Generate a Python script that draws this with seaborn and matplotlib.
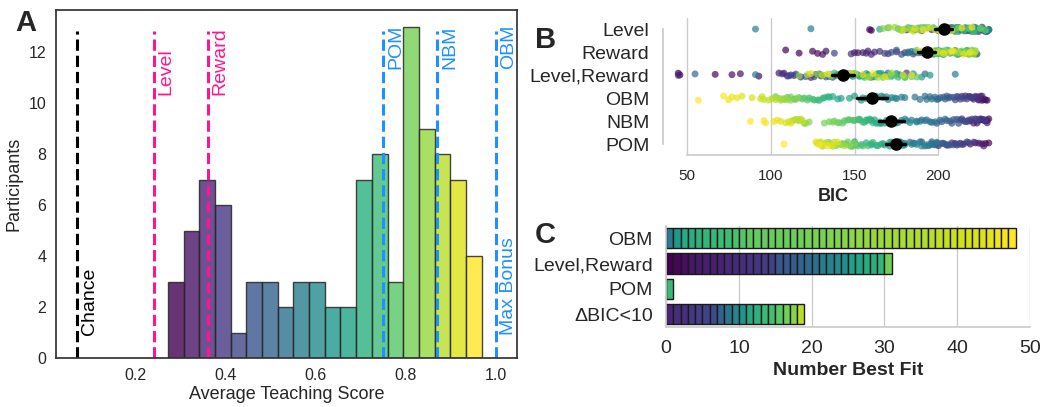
import numpy as np
import pandas as pd
import matplotlib
matplotlib.use('Agg')
import matplotlib.pyplot as plt
import seaborn as sns

# average teaching score per participant (sorted low -> high)
scores = [0.272, 0.285, 0.298,
          0.312, 0.319, 0.326, 0.331, 0.338,
          0.345, 0.350, 0.355, 0.360, 0.364, 0.368, 0.373,
          0.380, 0.386, 0.392, 0.398, 0.403, 0.408,
          0.428,
          0.452, 0.463, 0.474,
          0.487, 0.498, 0.509,
          0.526, 0.541,
          0.556, 0.568, 0.579,
          0.592, 0.603, 0.614,
          0.632, 0.647,
          0.664, 0.681,
          0.695, 0.700, 0.705, 0.709, 0.714, 0.718, 0.722,
          0.729, 0.733, 0.737, 0.741, 0.745, 0.749, 0.753, 0.757,
          0.768, 0.779, 0.790,
          0.798, 0.800, 0.803, 0.805, 0.808, 0.810, 0.813, 0.815, 0.818, 0.820, 0.823, 0.825, 0.828,
          0.833, 0.837, 0.841, 0.845, 0.849, 0.853, 0.856, 0.860, 0.863,
          0.868, 0.872, 0.876, 0.880, 0.884, 0.888, 0.892, 0.897,
          0.903, 0.908, 0.913, 0.918, 0.923, 0.928, 0.932,
          0.940, 0.950, 0.959, 0.968]

# best fitting model per participant (same order as scores)
best_codes = ['LR', 'LR', 'LR', 'LR', 'LR', 'LR', 'LR', 'LR', 'D', 'LR',
              'LR', 'D', 'LR', 'D', 'LR', 'LR', 'D', 'LR', 'D', 'LR',
              'D', 'D', 'LR', 'LR', 'LR', 'D', 'LR', 'LR', 'LR', 'D',
              'O', 'LR', 'LR', 'D', 'LR', 'LR', 'D', 'O', 'LR', 'LR',
              'D', 'O', 'LR', 'O', 'LR', 'D', 'O', 'LR', 'O', 'O',
              'P', 'D', 'O', 'O', 'D', 'O', 'O', 'D', 'O', 'O',
              'O', 'O', 'O', 'O', 'O', 'O', 'LR', 'D', 'O', 'O',
              'O', 'O', 'O', 'D', 'O', 'O', 'O', 'O', 'O', 'O',
              'O', 'O', 'O', 'O', 'O', 'O', 'O', 'D', 'O', 'O',
              'O', 'O', 'O', 'O', 'O', 'O', 'O', 'O', 'O']
best_names = {'LR': 'Level,Reward', 'O': 'OBM', 'P': 'POM', 'D': 'ΔBIC<10'}
fit_order = ['OBM', 'Level,Reward', 'POM', 'ΔBIC<10']

# BIC of every model per participant (same order as scores)
models = ['Level', 'Reward', 'Level,Reward', 'OBM', 'NBM', 'POM']
bic_level = [159, 160, 181, 186, 214, 220, 225, 210, 228, 205, 218, 230, 196, 222, 212, 208, 226, 216, 190, 229, 224,
             200, 215, 227, 206, 219, 211, 229, 203, 223, 217, 209, 226, 213, 221, 207, 230, 218, 212, 224,
             124, 91, 215, 222, 208, 228, 218, 211, 225, 213, 230, 206, 220, 216, 226, 210, 223, 219,
             165, 184, 170, 192, 178, 197, 188, 176, 215, 182, 205, 194, 221, 187, 210, 199, 228, 190, 218, 203, 225, 212,
             167, 180, 174, 189, 177, 193, 183, 171, 198, 185, 202, 179, 195, 208, 186, 214, 191, 220, 201]
bic_reward = [109, 117, 125, 128, 131, 133, 150, 152, 155, 158, 160, 162, 148, 157, 165, 170, 175, 223, 180, 185, 138,
              168, 172, 178, 182, 186, 190, 175, 194, 198, 202, 188, 206, 210, 184, 214, 196, 218, 200, 222,
              182, 197, 204, 190, 212, 200, 207, 217, 194, 220, 203, 210, 222, 198, 214, 206, 218, 202,
              192, 208, 200, 216, 204, 221, 197, 211, 219, 205, 213, 199, 222, 209, 217, 203, 220, 195, 214, 207, 218, 201,
              187, 210, 198, 216, 204, 221, 193, 212, 206, 218, 200, 222, 209, 196, 215, 203, 219, 190, 208]
bic_level_reward = [45, 46, 67, 93, 77, 82, 105, 108, 110, 112, 45, 118, 124, 107, 130, 115, 181, 135, 127, 140, 114,
                    126, 111, 133, 145, 121, 150, 137, 155, 129, 160, 143, 165, 55, 148, 170, 192, 158, 91, 152,
                    210, 139, 162, 146, 168, 175, 153, 177, 141, 185, 157, 195, 163, 180, 149, 172, 190, 166,
                    132, 158, 144, 171, 149, 164, 138, 176, 153, 184, 135, 162, 147, 174, 156, 187, 142, 167, 151, 180, 159, 170,
                    117, 144, 128, 158, 136, 172, 122, 150, 164, 131, 179, 141, 155, 124, 168, 147, 184, 134, 161]
bic_obm = [228, 226, 229, 224, 227, 222, 225, 220, 223, 218, 226, 221, 216, 224, 219, 214, 222, 217, 212, 220, 215,
           210, 213, 207, 211, 205, 209, 203, 206, 200, 204, 198, 201, 195, 199, 192, 196, 189, 193, 186,
           180, 175, 178, 172, 169, 174, 166, 170, 163, 160, 167, 157, 154, 161, 150, 155, 147, 142,
           140, 135, 137, 132, 129, 134, 126, 131, 123, 128, 120, 125, 117, 122, 114, 119, 110, 115, 106, 112, 103, 108,
           112, 116, 108, 110, 104, 106, 101, 103, 99, 96, 95, 94, 89, 83, 80, 77, 75, 72, 57]
bic_nbm = [229, 227, 230, 225, 228, 223, 226, 221, 229, 219, 224, 227, 217, 222, 225, 215, 220, 228, 213, 218, 223,
           214, 211, 216, 208, 212, 205, 209, 202, 207, 199, 204, 196, 201, 193, 198, 190, 195, 187, 192,
           189, 184, 187, 181, 178, 183, 175, 180, 172, 169, 176, 166, 163, 170, 160, 165, 157, 153,
           168, 162, 165, 159, 156, 161, 153, 158, 150, 155, 147, 152, 144, 149, 141, 146, 138, 143, 135, 140, 132, 137,
           123, 120, 121, 117, 118, 114, 116, 113, 115, 111, 119, 109, 112, 106, 104, 102, 97, 96, 88]
bic_pom = [230, 226, 228, 222, 215, 224, 210, 219, 205, 213, 227, 200, 217, 208, 196, 221, 203, 211, 198, 214, 206,
           218, 202, 209, 194, 212, 199, 190, 207, 196, 186, 204, 192, 183, 200, 189, 180, 197, 185, 178,
           199, 184, 195, 180, 190, 177, 193, 174, 187, 171, 150, 168, 179, 166, 176, 163, 172, 160,
           175, 160, 171, 157, 167, 154, 164, 151, 161, 148, 158, 145, 155, 142, 152, 139, 149, 137, 146, 134, 143, 131,
           150, 135, 147, 132, 144, 129, 141, 128, 138, 136, 133, 130, 140, 127, 137, 131, 134, 129, 108]

# teaching score reached by chance and by each model
ref_names = ['Chance', 'Level', 'Reward', 'POM', 'NBM', 'OBM']
ref_scores = [0.07, 0.24, 0.36, 0.75, 0.87, 1.0]
ref_colors = ['black', 'deeppink', 'deeppink', 'dodgerblue', 'dodgerblue', 'dodgerblue']
ref_label_y = [0.9, 10.3, 10.3, 11.35, 11.35, 11.35]

sns.set_theme(style='whitegrid')
plt.rcParams['font.family'] = ['Liberation Sans', 'DejaVu Sans']
np.random.seed(0)

fig = plt.figure(figsize=(10.44, 4.07), dpi=100)
axA = fig.add_axes([0.0536, 0.1197, 0.4416, 0.8557])
axB = fig.add_axes([0.6348, 0.618, 0.3272, 0.338])
axC = fig.add_axes([0.638, 0.1975, 0.3487, 0.248])

# A. histogram of teaching scores with reference lines
sns.histplot(x=scores, bins=20, ax=axA, edgecolor='0.15', linewidth=1)
bar_colors = plt.cm.viridis(np.linspace(0, 1, len(axA.patches)))
for patch, c in zip(axA.patches, bar_colors):
    patch.set_facecolor((*c[:3], 0.8))
    patch.set_edgecolor((0.15, 0.15, 0.15, 0.85))

for name, val, col, ty in zip(ref_names, ref_scores, ref_colors, ref_label_y):
    axA.axvline(val, ymax=0.94, color=col, linestyle='--', linewidth=2.2)
    axA.text(val + 0.008, ty, name, rotation=90, ha='left', va='bottom', color=col, fontsize=14)
axA.text(ref_scores[-1] + 0.008, 0.9, 'Max Bonus', rotation=90, ha='left', va='bottom',
         color='dodgerblue', fontsize=14)

axA.set_xlim(0.0235, 1.0465)
axA.grid(False)
for sp in axA.spines.values():
    sp.set_visible(True)
    sp.set_color('0.2')
    sp.set_linewidth(1.25)
axA.tick_params(labelsize=11.5, length=0, pad=7)
axA.set_xlabel('Average Teaching Score', fontsize=13, labelpad=2)
axA.set_ylabel('Participants', fontsize=13)

# B. BIC per model, points coloured by the participant's score rank
df_bic = pd.DataFrame({
    'model': np.repeat(models, len(scores)),
    'BIC': np.concatenate([bic_level, bic_reward, bic_level_reward, bic_obm, bic_nbm, bic_pom]),
    'score': np.tile(scores, len(models)),
})
df_bic['rank'] = df_bic.groupby('model')['score'].rank(method='first')
sns.stripplot(data=df_bic, x='BIC', y='model', hue='rank', palette='viridis', order=models,
              size=5, alpha=0.7, jitter=True, legend=False, ax=axB)
sns.pointplot(data=df_bic, x='BIC', y='model', order=models, color='black', linestyle='none',
              markersize=7, zorder=5, err_kws={'linewidth': 2.5, 'zorder': 5}, seed=0, ax=axB)
axB.set_xlabel('BIC', fontsize=13, fontweight='bold')
axB.set_ylabel('')
axB.tick_params(axis='y', labelsize=14)
axB.tick_params(axis='x', labelsize=11)
sns.despine(ax=axB, trim=True)

# C. number of participants best fit by each model, one segment per participant
df_fit = pd.DataFrame({'score': scores, 'best': [best_names[c] for c in best_codes]})
df_fit = df_fit.sort_values('score')
df_fit['slot'] = df_fit.groupby('best').cumcount()
df_fit['row'] = df_fit['best'].map({name: i for i, name in enumerate(fit_order)})
norm = plt.Normalize(min(scores), max(scores))
axC.barh(df_fit['row'], 1, left=df_fit['slot'], height=0.8, align='center',
         color=plt.cm.viridis(norm(df_fit['score'])), edgecolor='0.1', linewidth=1)
axC.set_yticks(range(len(fit_order)), fit_order)
axC.set_ylim(len(fit_order) - 0.5, -0.5)
axC.set_xlim(0, 50)
axC.yaxis.grid(False)
axC.tick_params(labelsize=14)
axC.set_xlabel('Number Best Fit', fontsize=14, fontweight='bold')
sns.despine(ax=axC)

# panel letters
fig.text(15 / 1044, 1 - 31 / 407, 'A', fontsize=21, fontweight='bold', va='baseline')
fig.text(535 / 1044, 1 - 48 / 407, 'B', fontsize=21, fontweight='bold', va='baseline')
fig.text(535 / 1044, 1 - 243 / 407, 'C', fontsize=21, fontweight='bold', va='baseline')

fig.savefig('out.png', dpi=100)
